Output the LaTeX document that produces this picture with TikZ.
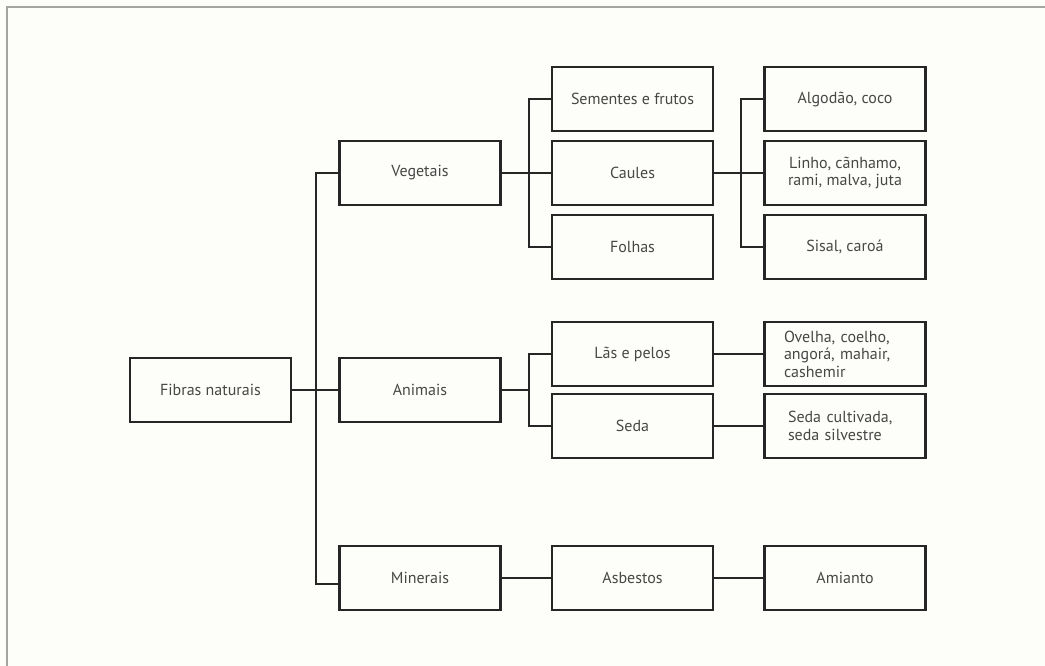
\documentclass[tikz,border=0pt]{standalone}
\usepackage{fontspec}
\setmainfont{PT Sans}
\usetikzlibrary{positioning}
\definecolor{paper}{HTML}{FDFDF9}
\definecolor{framegray}{HTML}{A4A4A0}
\definecolor{ink}{HTML}{262626}

\begin{document}
\begin{tikzpicture}[x=1pt, y=-1pt]
\tikzset{
fbox/.style={
  draw=ink,
  line width=2.2pt,
  minimum width=161pt,
  minimum height=64pt,
  inner sep=2pt,
  align=center,
  text=ink!85,
  font=\fontsize{16}{17.5}\selectfont
  },
link/.style={draw=ink, line width=2.2pt}
}

% page and frame
\fill[paper] (0,0) rectangle (1045,666);
\useasboundingbox (0,0) rectangle (1045,666);
\draw[framegray, line width=2pt] (7,666) -- (7,7) -- (1045,7);

% level 1 and 2
\node[fbox] (fibras)   at (210.5,390) {Fibras naturais};
\node[fbox] (vegetais) at (420,173)   {Vegetais};
\node[fbox] (animais)  at (420,390)   {Animais};
\node[fbox] (minerais) at (420,578)   {Minerais};

% level 3
\node[fbox] (sementes) at (632.5,99)  {Sementes e frutos};
\node[fbox] (caules)   at (632.5,173) {Caules};
\node[fbox] (folhas)   at (632.5,247) {Folhas};
\node[fbox] (las)      at (632.5,354) {Lãs e pelos};
\node[fbox] (seda)     at (632.5,426) {Seda};
\node[fbox] (asbestos) at (632.5,578) {Asbestos};

% level 4
\node[fbox] (algodao)  at (845,99)    {Algodão, coco};
\node[fbox] (linho)    at (845,173)   {Linho, cãnhamo,\\rami, malva, juta};
\node[fbox] (sisal)    at (845,247)   {Sisal, caroá};
\node[fbox, align=left, text width=122pt] (ovelha) at (845,354)
  {Ovelha, coelho,\\angorá, mahair,\\cashemir};
\node[fbox, align=left, text width=114pt] (sedacult) at (845,426)
  {Seda cultivada,\\seda silvestre};
\node[fbox] (amianto)  at (845,578)   {Amianto};

% connectors
\foreach \n in {vegetais,animais}
  \draw[link] (fibras.east) -- ++(24,0) |- (\n.west);
\draw[link] (fibras.east) -- ++(24,0) |- ([yshift=-6pt]minerais.west);

\foreach \n in {sementes,caules,folhas}
  \draw[link] (vegetais.east) -- ++(27,0) |- (\n.west);
\foreach \n in {algodao,linho,sisal}
  \draw[link] (caules.east) -- ++(27,0) |- (\n.west);
\foreach \n in {las,seda}
  \draw[link] (animais.east) -- ++(27,0) |- (\n.west);

\draw[link] (las.east) -- (ovelha.west);
\draw[link] (seda.east) -- (sedacult.west);
\draw[link] (minerais.east) -- (asbestos.west);
\draw[link] (asbestos.east) -- (amianto.west);

\end{tikzpicture}
\end{document}
